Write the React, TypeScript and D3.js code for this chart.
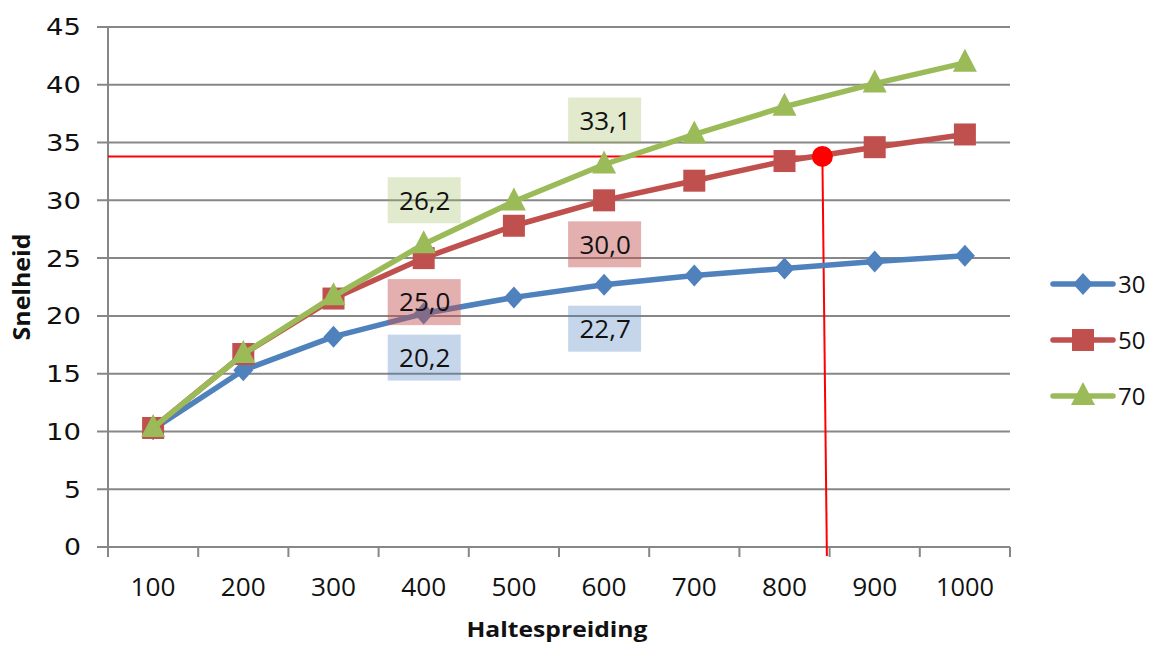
import React from "react";
import * as d3 from "d3";

const categories = ["100", "200", "300", "400", "500", "600", "700", "800", "900", "1000"];
const series30 = [10.2, 15.3, 18.2, 20.2, 21.6, 22.7, 23.5, 24.1, 24.7, 25.2];
const series50 = [10.3, 16.7, 21.5, 25.0, 27.8, 30.0, 31.7, 33.4, 34.6, 35.7];
const series70 = [10.3, 16.7, 21.7, 26.2, 29.9, 33.1, 35.7, 38.1, 40.1, 41.9];
const seriesNames = ["30", "50", "70"];
const yTicks = [0, 5, 10, 15, 20, 25, 30, 35, 40, 45];
// annotation labels: series index, category, text, side (-1 above, 1 below)
const labels = [
  { s: 2, cat: "400", text: "26,2", side: -1 },
  { s: 1, cat: "400", text: "25,0", side: 1 },
  { s: 0, cat: "400", text: "20,2", side: 1 },
  { s: 2, cat: "600", text: "33,1", side: -1 },
  { s: 1, cat: "600", text: "30,0", side: 1 },
  { s: 0, cat: "600", text: "22,7", side: 1 },
];
const refX = 842;
const refXBottom = 847;
const refY = 33.8;

const colors = ["#4F81BD", "#C0504D", "#9BBB59"];
const labelFills = ["rgba(79,129,189,0.32)", "rgba(192,80,77,0.45)", "rgba(155,187,89,0.3)"];

function Marker({ kind, x, y, color }: { kind: number; x: number; y: number; color: string }) {
  if (kind === 0) {
    const rx = 10, ry = 11;
    return <path d={`M${x},${y - ry}L${x + rx},${y}L${x},${y + ry}L${x - rx},${y}Z`} fill={color} />;
  }
  if (kind === 1) {
    const h = 11;
    return <rect x={x - h} y={y - h} width={h * 2} height={h * 2} fill={color} />;
  }
  const s = 12;
  return <path d={`M${x},${y - s - 2}L${x + s},${y + s - 3}L${x - s},${y + s - 3}Z`} fill={color} />;
}

const FONT = "'Open Sans', 'DejaVu Sans', sans-serif";

export default function App() {
  const W = 1151, H = 646;
  const x = d3.scaleBand<string>().domain(categories).range([108, 1010]).padding(0);
  const y = d3.scaleLinear().domain([0, 45]).range([547, 27]);
  const cx = (c: string) => (x(c) as number) + x.bandwidth() / 2;
  const xLin = d3.scaleLinear().domain([100, 1000]).range([cx("100"), cx("1000")]);
  const allSeries = [series30, series50, series70];
  const line = d3
    .line<number>()
    .x((_, i) => cx(categories[i]))
    .y((d) => y(d));
  const bw = x.bandwidth();
  const xTickPositions = categories.map((c) => x(c) as number).concat([(x(categories[9]) as number) + bw]);

  return (
    <svg width={W} height={H} style={{ display: "block", position: "absolute", left: 0, top: 0 }}>
      <rect width={W} height={H} fill="#fff" />
      {/* gridlines */}
      {yTicks.map((t) => (
        <line key={t} x1={97} x2={1010} y1={y(t)} y2={y(t)} stroke="#878787" strokeWidth={2} />
      ))}
      {/* y axis */}
      <line x1={108} x2={108} y1={y(45)} y2={y(0) + 9} stroke="#878787" strokeWidth={2} />
      {xTickPositions.map((p, i) => (
        <line key={i} x1={p} x2={p} y1={y(0)} y2={y(0) + 10} stroke="#878787" strokeWidth={2} />
      ))}
      {/* y tick labels */}
      {yTicks.map((t) => (
        <text key={t} x={81} y={y(t)} dy="0.36em" textAnchor="end" fontFamily="'DejaVu Sans', sans-serif" fontSize={23.5} fill="#111"
          textLength={t >= 10 ? 35 : 17} lengthAdjust="spacingAndGlyphs">
          {t}
        </text>
      ))}
      {/* x tick labels */}
      {categories.map((c) => (
        <text key={c} x={cx(c)} y={587} dy="0.36em" textAnchor="middle" fontFamily={FONT} fontSize={26} fill="#111"
          textLength={c.length === 4 ? 58 : 45} lengthAdjust="spacingAndGlyphs">
          {c}
        </text>
      ))}
      {/* axis titles */}
      <text x={557} y={637} textAnchor="middle" fontFamily={FONT} fontWeight="bold" fontSize={22} fill="#111"
        textLength={181} lengthAdjust="spacingAndGlyphs">
        Haltespreiding
      </text>
      <text transform={`translate(30,287) rotate(-90)`} textAnchor="middle" fontFamily={FONT} fontWeight="bold" fontSize={23} fill="#111"
        textLength={107} lengthAdjust="spacingAndGlyphs">
        Snelheid
      </text>
      {/* reference lines */}
      <line x1={108} x2={xLin(refX)} y1={y(refY)} y2={y(refY)} stroke="#FF0000" strokeWidth={2} />
      <line x1={xLin(refX)} x2={xLin(refXBottom)} y1={y(refY)} y2={y(0) + 9} stroke="#FF0000" strokeWidth={2} />
      {/* series */}
      {allSeries.map((s, si) => (
        <g key={si}>
          <path d={line(s) as string} fill="none" stroke={colors[si]} strokeWidth={5.5} strokeLinejoin="round" />
          {s.map((v, i) => (
            <Marker key={i} kind={si} x={cx(categories[i])} y={y(v)} color={colors[si]} />
          ))}
        </g>
      ))}
      <circle cx={xLin(refX)} cy={y(refY)} r={10.5} fill="#FF0000" />
      {/* data labels */}
      {labels.map((l, i) => {
        const px = cx(l.cat);
        const py = y(allSeries[l.s][categories.indexOf(l.cat)]) + l.side * 44;
        return (
          <g key={i}>
            <rect x={px - 36} y={py - 23} width={73} height={46} fill={labelFills[l.s]} />
            <text x={px + 1} y={py} dy="0.36em" textAnchor="middle" fontFamily={FONT} fontSize={26} fill="#111">
              {l.text}
            </text>
          </g>
        );
      })}
      {/* legend */}
      {seriesNames.map((n, i) => {
        const ly = 284 + i * 56;
        return (
          <g key={n}>
            <line x1={1053} x2={1113} y1={ly} y2={ly} stroke={colors[i]} strokeWidth={5.5} strokeLinecap="round" />
            <Marker kind={i} x={1083} y={ly} color={colors[i]} />
            <text x={1118} y={ly} dy="0.36em" fontFamily={FONT} fontSize={24} fill="#111">
              {n}
            </text>
          </g>
        );
      })}
    </svg>
  );
}
